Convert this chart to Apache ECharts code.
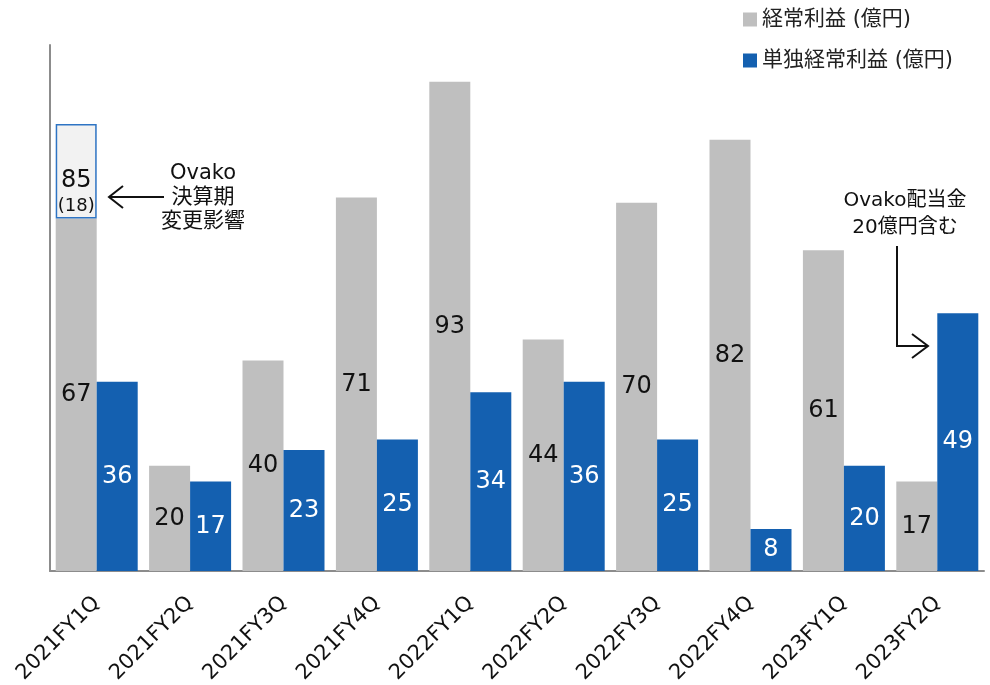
<!DOCTYPE html>
<html><head><meta charset="utf-8">
<script src="https://cdn.jsdelivr.net/npm/echarts@6/dist/echarts.min.js"></script>
<style>html,body{margin:0;padding:0;background:#fff}#c{width:990px;height:685px}</style>
</head><body><div id="c"></div>
<script>
const categories = ['2021FY1Q','2021FY2Q','2021FY3Q','2021FY4Q','2022FY1Q','2022FY2Q','2022FY3Q','2022FY4Q','2023FY1Q','2023FY2Q'];
const ordinaryProfit = [67, 20, 40, 71, 93, 44, 70, 82, 61, 17];
const ovakoEffect = [18, null, null, null, null, null, null, null, null, null];
const standaloneProfit = [36, 17, 23, 25, 34, 36, 25, 8, 20, 49];
const seriesNames = ['経常利益 (億円)', '単独経常利益 (億円)'];

const FONT = '"DejaVu Sans", "Noto Sans CJK JP", sans-serif';
const chart = echarts.init(document.getElementById('c'));
chart.setOption({
  animation: false,
  textStyle: { fontFamily: FONT },
  grid: { left: 50, right: 6, top: 45, bottom: 114, containLabel: false, outerBoundsMode: 'none' },
  legend: {
    data: seriesNames, orient: 'vertical', left: 738, top: 4, itemGap: 20,
    itemWidth: 14, itemHeight: 14, icon: 'rect',
    textStyle: { fontSize: 21, color: '#222', fontFamily: FONT }
  },
  xAxis: {
    type: 'category', data: categories,
    axisLine: { lineStyle: { color: '#8c8c8c', width: 2 } },
    axisTick: { show: false },
    axisLabel: { rotate: 45, fontSize: 21, color: '#111', margin: 29, interval: 0, fontFamily: FONT }
  },
  yAxis: {
    type: 'value', min: 0, max: 100,
    axisLine: { show: true, lineStyle: { color: '#8c8c8c', width: 2 } },
    axisTick: { show: false }, axisLabel: { show: false }, splitLine: { show: false }
  },
  series: [
    {
      name: seriesNames[0], type: 'bar', stack: 'g', barWidth: 41,
      data: ordinaryProfit,
      itemStyle: { color: '#bfbfbf' },
      label: { show: true, position: 'inside', fontSize: 24, color: '#111', fontFamily: FONT }
    },
    {
      name: 'ovako', type: 'bar', stack: 'g', barWidth: 41,
      data: ovakoEffect,
      itemStyle: { color: '#f2f2f2', borderColor: '#2e74c4', borderWidth: 1.5 },
      label: {
        show: true, position: 'insideBottom', distance: 0,
        formatter: p => '{a|' + (ordinaryProfit[p.dataIndex] + p.value) + '}\n{b|(' + p.value + ')}',
        rich: {
          a: { fontSize: 24, color: '#111', fontFamily: FONT, lineHeight: 28 },
          b: { fontSize: 18, color: '#111', fontFamily: FONT, lineHeight: 24 }
        }
      }
    },
    {
      name: seriesNames[1], type: 'bar', stack: 'b', barWidth: 41, barGap: '0%',
      data: standaloneProfit,
      itemStyle: { color: '#1460b0' },
      label: { show: true, position: 'inside', fontSize: 24, color: '#fff', fontFamily: FONT }
    }
  ],
  graphic: [
    { type: 'text', x: 203, y: 162, style: { text: 'Ovako\n決算期\n変更影響', font: '21px ' + FONT, fill: '#111', align: 'center', lineHeight: 24 } },
    { type: 'line', shape: { x1: 164, y1: 197, x2: 109, y2: 197 }, style: { stroke: '#111', lineWidth: 2 } },
    { type: 'polyline', shape: { points: [[123, 186], [109, 197], [123, 208]] }, style: { stroke: '#111', lineWidth: 2, fill: null } },
    { type: 'text', x: 905, y: 187, style: { text: 'Ovako配当金\n20億円含む', font: '20px ' + FONT, fill: '#111', align: 'center', lineHeight: 27 } },
    { type: 'polyline', shape: { points: [[897, 246], [897, 346], [928, 346]] }, style: { stroke: '#111', lineWidth: 2, fill: null } },
    { type: 'polyline', shape: { points: [[912, 334], [928, 346], [912, 358]] }, style: { stroke: '#111', lineWidth: 2, fill: null } }
  ]
});
</script></body></html>
